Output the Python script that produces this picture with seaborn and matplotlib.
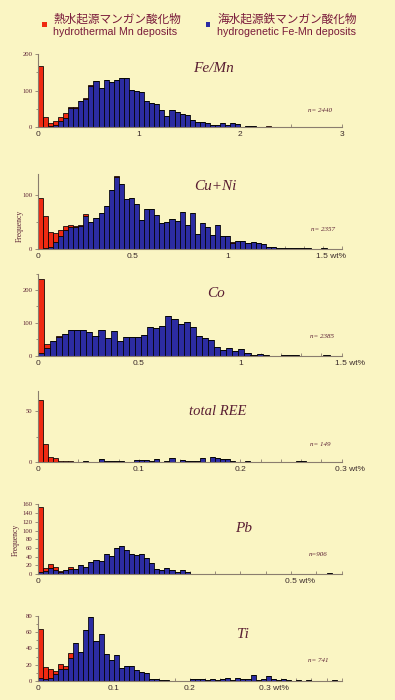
import numpy as np
import pandas as pd
import matplotlib.pyplot as plt
import seaborn as sns
from matplotlib.patches import Rectangle
from matplotlib.ticker import MultipleLocator

BG = "#faf5c3"
RED = "#ef2a12"
BLUE = "#2c2ca2"
INK = "#5a1f33"
AXC = "#8a7d6e"

# bin counts (blue = hydrogenetic, red = hydrothermal, stacked on top)
femn_blue = [0, 0, 3, 5, 18, 25, 52, 52, 72, 77, 113, 125, 106, 129, 124, 129, 135, 135, 103, 99,
             96, 73, 66, 63, 48, 30, 48, 41, 37, 33, 19, 15, 15, 11, 6, 6, 12, 5, 12, 9,
             0, 3, 3, 0, 2, 2, 2, 2, 2, 2, 2, 2, 2, 0, 0, 2, 0, 0, 0, 0]
femn_red = [167, 29, 10, 12, 9, 13, 3, 3, 0, 4, 2] + [0] * 34 + [1] + [0] * 14

cuni_blue = [0, 2, 4, 13, 23, 34, 40, 41, 43, 61, 50, 58, 67, 80, 110, 134, 120, 92, 95, 84,
             53, 73, 74, 63, 47, 50, 56, 52, 68, 45, 66, 27, 48, 41, 25, 45, 23, 23, 11, 14,
             15, 10, 13, 10, 8, 3, 3, 2, 2, 1, 1, 1, 1, 1, 0, 0, 2, 0, 0, 0]
cuni_red = [94, 58, 28, 16, 11, 9, 5, 1, 2, 3, 0, 0, 0, 0, 0, 2] + [0] * 22 + [1] + [0] * 21

co_blue = [7, 24, 45, 58, 65, 77, 79, 77, 71, 61, 79, 53, 76, 46, 57, 56, 56, 62, 87, 83,
           91, 122, 112, 98, 102, 88, 61, 54, 49, 27, 17, 23, 15, 20, 9, 3, 6, 3, 0, 0,
           3, 1, 1, 0, 0, 0, 0, 2, 0, 0]
co_red = [226, 11, 0, 2] + [0] * 46

ree_blue = [0, 0, 0, 0, 0, 0, 0, 0, 0, 1, 0, 0, 3, 1, 1, 1, 1, 0, 0, 2,
            2, 2, 1, 3, 0, 1, 4, 0, 2, 1, 1, 1, 4, 0, 5, 4, 3, 3, 1, 0,
            0, 1, 0, 0, 0, 0, 0, 0, 0, 0, 0, 1, 1, 0, 0, 0, 0, 0, 0, 0]
ree_red = [61, 18, 5, 4, 1, 1, 1] + [0] * 53

pb_blue = [5, 7, 13, 9, 5, 10, 12, 12, 20, 16, 27, 33, 30, 47, 42, 60, 64, 55, 46, 43,
           47, 36, 25, 11, 10, 14, 9, 4, 9, 4, 1, 1, 1, 1, 1, 1, 0, 0, 0, 0,
           0, 0, 0, 0, 0, 0, 0, 0, 0, 0, 0, 0, 0, 0, 0, 0, 0, 2, 0, 0]
pb_red = [150, 6, 10, 7, 3, 0, 4] + [0] * 53

ti_blue = [4, 3, 4, 8, 15, 15, 28, 47, 35, 62, 79, 49, 57, 33, 26, 32, 16, 18, 18, 13,
           11, 10, 3, 3, 1, 1, 0, 0, 0, 0, 2, 3, 2, 1, 2, 1, 2, 4, 1, 4,
           3, 3, 7, 1, 2, 6, 2, 1, 2, 1, 0, 1, 0, 1, 0, 0, 0, 0, 1, 0]
ti_red = [60, 14, 11, 4, 6, 3, 6, 0, 0, 0, 0, 0, 0, 0, 0, 0, 0, 0, 0, 1] + [0] * 40

sns.set_theme(style="white")
plt.rcParams["font.family"] = ["Liberation Sans", "Noto Sans CJK JP", "DejaVu Sans"]

fig = plt.figure(figsize=(3.95, 7.0), dpi=100, facecolor=BG)
W, H = 395.0, 700.0
X0, X1 = 37.7, 341.7


def wt_pos(label):
    return float(label.split()[0])


def panel(top, bottom, xmax, blue, red, ymax, ymaj, ymin, xticks, xlabels, wt, xminor,
          title, tpos, tsize, ntext, npos, freq=None):
    ax = fig.add_axes([X0 / W, 1 - bottom / H, (X1 - X0) / W, (bottom - top) / H])
    ax.set_facecolor("none")
    edges = np.linspace(0, xmax, len(blue) + 1)
    mids = (edges[:-1] + edges[1:]) / 2
    df = pd.DataFrame({
        "x": np.concatenate([mids, mids]),
        "n": np.concatenate([blue, red]),
        "kind": ["hydrogenetic"] * len(blue) + ["hydrothermal"] * len(red),
    })
    sns.histplot(df, x="x", weights="n", hue="kind",
                 hue_order=["hydrothermal", "hydrogenetic"], multiple="stack",
                 bins=list(edges), palette={"hydrothermal": RED, "hydrogenetic": BLUE},
                 edgecolor="black", linewidth=0.55, alpha=1, legend=False, ax=ax)
    ax.set_xlim(0, xmax)
    ax.set_ylim(0, ymax)
    ax.set_xlabel("")
    ax.set_ylabel("")
    for s in ["top", "right"]:
        ax.spines[s].set_visible(False)
    for s in ["left", "bottom"]:
        ax.spines[s].set_color(AXC)
        ax.spines[s].set_linewidth(0.8)
    ax.yaxis.set_major_locator(MultipleLocator(ymaj))
    ax.yaxis.set_minor_locator(MultipleLocator(ymin))
    ax.set_xticks(xticks)
    ax.set_xticklabels(xlabels)
    ax.xaxis.set_minor_locator(MultipleLocator(xminor))
    ax.tick_params(axis="y", which="both", direction="out", length=2.5, width=0.6,
                   color=AXC, pad=1.2, labelsize=4.8, labelcolor=INK, left=True)
    ax.tick_params(axis="y", which="minor", length=1.6)
    ax.tick_params(axis="x", which="both", direction="in", length=2, width=0.6,
                   color=AXC, pad=3, labelsize=6, labelcolor="#3a2a2a", bottom=True)
    for lab in ax.get_yticklabels():
        lab.set_family("Liberation Serif")
    if wt is not None:
        ax.annotate(wt, xy=(wt_pos(wt), 0), xycoords=("data", "axes fraction"),
                    xytext=(-4.5, -3), textcoords="offset points", ha="left", va="top",
                    fontsize=6, color="#3a2a2a")
    if freq is not None:
        ax.set_ylabel("Frequency", family="Liberation Serif", fontsize=5.5, color=INK)
        ax.yaxis.set_label_coords(*freq)
    fig.text(tpos[0] / W, 1 - tpos[1] / H, title, family="Liberation Serif",
             style="italic", fontsize=tsize, ha="center", va="center", color=INK)
    fig.text(npos[0] / W, 1 - npos[1] / H, ntext, family="Liberation Serif",
             style="italic", fontsize=5, ha="center", va="center", color=INK)
    return ax


panel(54, 127.3, 3, femn_blue, femn_red, 200, 100, 50, [0, 1, 2, 3], ["0", "1", "2", "3"],
      None, 0.5, "Fe/Mn", (213, 68), 11, "n= 2440", (320, 111))
panel(173.5, 248.7, 1.6, cuni_blue, cuni_red, 140, 100, 50, [0, 0.5, 1], ["0", "0.5", "1"],
      "1.5 wt%", 0.1, "Cu+Ni", (215, 187), 11, "n= 2357", (323, 230), freq=(-0.045, 0.3))
panel(273.6, 355.7, 1.5, co_blue, co_red, 250, 100, 50, [0, 0.5, 1], ["0", "0.5", "1"],
      "1.5 wt%", 0.1, "Co", (216, 294), 11, "n= 2385", (322, 336))
panel(390.5, 462.3, 0.3, ree_blue, ree_red, 70, 50, 25, [0, 0.1, 0.2], ["0", "0.1", "0.2"],
      "0.3 wt%", 0.02, "total REE", (218, 411), 10.5, "n= 149", (320, 445))
panel(503.6, 574, 0.6, pb_blue, pb_red, 162, 20, 20, [0], ["0"],
      "0.5 wt%", 0.05, "Pb", (244, 529), 11, "n=906", (318, 554), freq=(-0.06, 0.48))
panel(615.7, 681, 0.4, ti_blue, ti_red, 80, 20, 10, [0, 0.1, 0.2], ["0", "0.1", "0.2"],
      "0.3 wt%", 0.02, "Ti", (243, 634), 11, "n= 741", (318, 660))

# legend at the top
for sx, col, jp, en in [(44, RED, "熱水起源マンガン酸化物", "hydrothermal Mn deposits"),
                        (208, BLUE, "海水起源鉄マンガン酸化物", "hydrogenetic Fe-Mn deposits")]:
    fig.add_artist(Rectangle(((sx - 2.5) / W, 1 - (24 + 2.5) / H), 5 / W, 5 / H,
                             facecolor=col, edgecolor="none", transform=fig.transFigure))
    fig.text((sx + 9) / W, 1 - 19 / H, jp, family=["Noto Sans CJK JP", "DejaVu Sans"],
             fontsize=8.4, color="#7a1a3a", ha="left", va="center")
    fig.text((sx + 9) / W, 1 - 32 / H, en, fontsize=7.7, color="#7a1a3a",
             ha="left", va="center")

fig.savefig("out.png", dpi=100, facecolor=BG)
